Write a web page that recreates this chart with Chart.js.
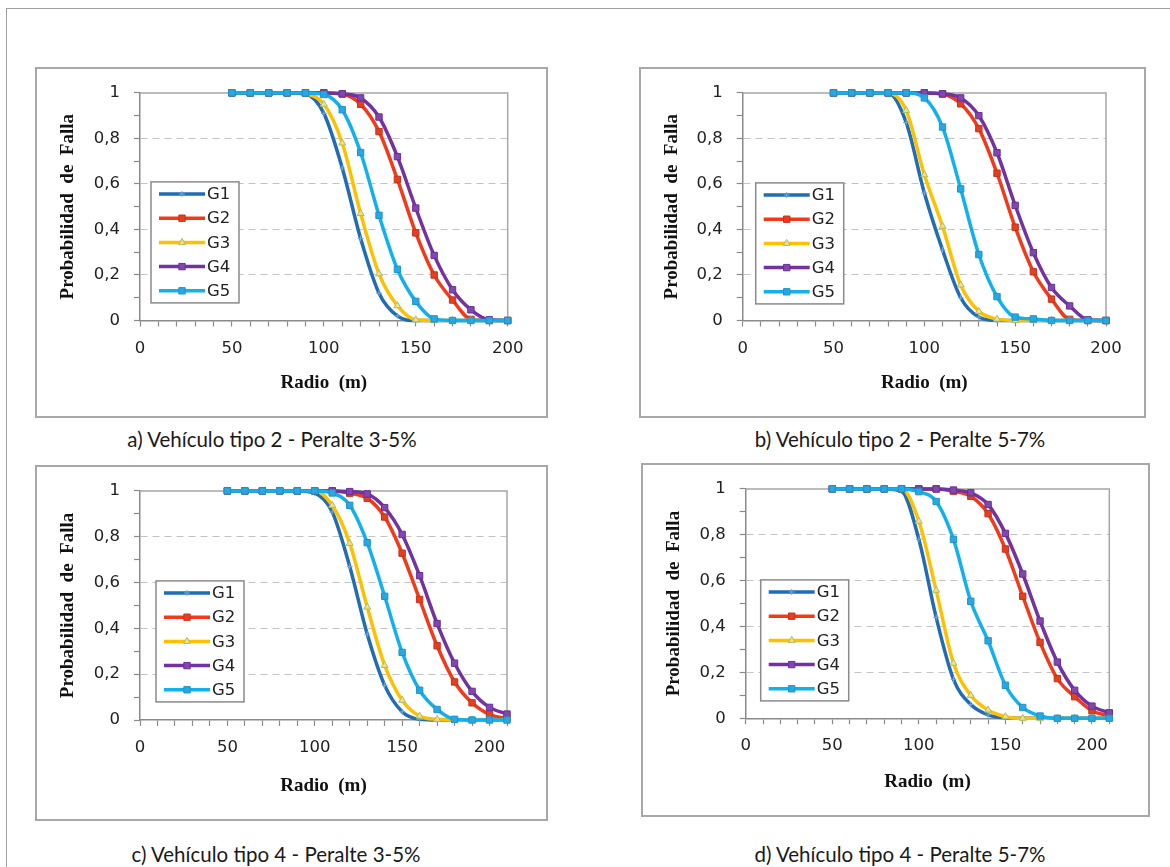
<!DOCTYPE html>
<html>
<head>
<meta charset="utf-8">
<script src="https://cdn.jsdelivr.net/npm/chart.js@4.4.0/dist/chart.umd.min.js"></script>
<style>
  html, body { margin: 0; padding: 0; background: #fff; }
  body { width: 1170px; height: 867px; position: relative; overflow: hidden; }
  .outer { position: absolute; left: 6px; top: 8px; width: 1300px; height: 1000px; border: 1.5px solid #a0a0a0; }
  .frame { position: absolute; border: 2px solid #a8a8a8; box-sizing: border-box; }
  canvas { position: absolute; }
  .cap { position: absolute; font: 20.5px Lato, "Noto Sans", sans-serif; color: #1a1a1a; white-space: nowrap; transform: translateX(-50%); line-height: 1.2; }
</style>
</head>
<body>
<div class="outer"></div>
<script>
// radios (m)
const radiosAB = [50, 60, 70, 80, 90, 100, 110, 120, 130, 140, 150, 160, 170, 180, 190, 200];
const radiosCD = [50, 60, 70, 80, 90, 100, 110, 120, 130, 140, 150, 160, 170, 180, 190, 200, 210];
const seriesNames = ['G1', 'G2', 'G3', 'G4', 'G5'];
const xLabelsEvery = 50;
const yLabelsEvery = 0.2;

// a) Vehiculo tipo 2 - Peralte 3-5%
const a_G1 = [1, 1, 1, 1, 0.995, 0.91, 0.67, 0.36, 0.12, 0.02, 0, 0, 0, 0, 0, 0];
const a_G2 = [1, 1, 1, 1, 1, 1, 0.995, 0.95, 0.83, 0.62, 0.385, 0.2, 0.09, 0.005, 0, 0];
const a_G3 = [1, 1, 1, 1, 0.995, 0.95, 0.78, 0.47, 0.205, 0.065, 0.003, 0, 0, 0, 0, 0];
const a_G4 = [1, 1, 1, 1, 1, 1, 0.996, 0.978, 0.894, 0.72, 0.494, 0.286, 0.135, 0.047, 0.003, 0];
const a_G5 = [1, 1, 1, 1, 1, 0.993, 0.926, 0.738, 0.462, 0.225, 0.084, 0.007, 0, 0, 0, 0];

// b) Vehiculo tipo 2 - Peralte 5-7%
const b_G1 = [1, 1, 1, 1, 0.87, 0.56, 0.31, 0.1, 0.015, 0, 0, 0, 0, 0, 0, 0];
const b_G2 = [1, 1, 1, 1, 1, 1, 0.995, 0.952, 0.843, 0.647, 0.41, 0.214, 0.094, 0.005, 0, 0];
const b_G3 = [1, 1, 1, 1, 0.923, 0.64, 0.414, 0.156, 0.04, 0.006, 0, 0, 0, 0, 0, 0];
const b_G4 = [1, 1, 1, 1, 1, 1, 0.996, 0.978, 0.9, 0.737, 0.506, 0.298, 0.145, 0.064, 0.003, 0];
const b_G5 = [1, 1, 1, 1, 1, 0.978, 0.85, 0.578, 0.29, 0.105, 0.015, 0.007, 0, 0, 0, 0];

// c) Vehiculo tipo 4 - Peralte 3-5%
const c_G1 = [1, 1, 1, 1, 1, 0.99, 0.908, 0.67, 0.375, 0.151, 0.036, 0.003, 0, 0, 0, 0, 0];
const c_G2 = [1, 1, 1, 1, 1, 1, 1, 0.99, 0.968, 0.886, 0.728, 0.526, 0.324, 0.166, 0.075, 0.024, 0.007];
const c_G3 = [1, 1, 1, 1, 1, 1, 0.937, 0.771, 0.493, 0.238, 0.086, 0.017, 0.003, 0, 0, 0, 0];
const c_G4 = [1, 1, 1, 1, 1, 1, 1, 0.997, 0.987, 0.927, 0.81, 0.63, 0.421, 0.248, 0.125, 0.055, 0.026];
const c_G5 = [1, 1, 1, 1, 1, 1, 0.991, 0.937, 0.774, 0.54, 0.295, 0.13, 0.046, 0.003, 0, 0, 0];

// d) Vehiculo tipo 4 - Peralte 5-7%
const d_G1 = [1, 1, 1, 1, 0.99, 0.78, 0.44, 0.17, 0.06, 0.015, 0.002, 0, 0, 0, 0, 0, 0];
const d_G2 = [1, 1, 1, 1, 1, 1, 1, 0.99, 0.968, 0.892, 0.738, 0.532, 0.331, 0.173, 0.094, 0.033, 0.01];
const d_G3 = [1, 1, 1, 1, 1, 0.859, 0.558, 0.24, 0.1, 0.036, 0.007, 0, 0, 0, 0, 0, 0];
const d_G4 = [1, 1, 1, 1, 1, 1, 1, 0.995, 0.983, 0.932, 0.806, 0.629, 0.424, 0.245, 0.122, 0.053, 0.024];
const d_G5 = [1, 1, 1, 1, 1, 0.988, 0.945, 0.78, 0.51, 0.338, 0.144, 0.047, 0.01, 0, 0, 0, 0];

// line / marker look for G1..G5
const styles = [
    { color: '#1f6db4', pointStyle: 'cross', radius: 3, bg: '#6fa8dc', border: '#6fa8dc', bw: 1 },
    { color: '#f23a1a', pointStyle: 'rect', radius: 4.5, bg: '#e2401f', border: '#c93119', bw: 1 },
    { color: '#ffc000', pointStyle: 'triangle', radius: 4, bg: '#f6dd8c', border: '#a8c05a', bw: 1 },
    { color: '#7232a2', pointStyle: 'rect', radius: 4.5, bg: '#8048ac', border: '#6a2f98', bw: 1 },
    { color: '#12b0ec', pointStyle: 'rect', radius: 4.5, bg: '#2aa7df', border: '#1c95cc', bw: 1 }
];

const panels = [
    { radios: radiosAB, series: [a_G1, a_G2, a_G3, a_G4, a_G5], xMax: 200,
      frame: [36, 67.5, 547, 416.5], plot: [140, 90.7, 507.7, 320], legend: [11, 89],
      caption: 'a) Vehículo tipo 2 - Peralte 3-5%', capX: 272, capY: 427 },
    { radios: radiosAB, series: [b_G1, b_G2, b_G3, b_G4, b_G5], xMax: 200,
      frame: [640, 67.5, 1145, 416.5], plot: [742.7, 90.7, 1106, 320], legend: [13, 90],
      caption: 'b) Vehículo tipo 2 - Peralte 5-7%', capX: 900, capY: 427 },
    { radios: radiosCD, series: [c_G1, c_G2, c_G3, c_G4, c_G5], xMax: 210,
      frame: [36, 466, 547, 820], plot: [140, 488.7, 507, 720], legend: [16, 90],
      caption: 'c) Vehículo tipo 4 - Peralte 3-5%', capX: 276, capY: 842 },
    { radios: radiosCD, series: [d_G1, d_G2, d_G3, d_G4, d_G5], xMax: 210,
      frame: [642, 464, 1149, 816], plot: [745.7, 486.7, 1109.3, 718.3], legend: [15, 91],
      caption: 'd) Vehículo tipo 4 - Peralte 5-7%', capX: 900, capY: 842 }
];

const plotBorder = {
    id: 'plotBorder',
    beforeDatasetsDraw(chart) {
        const { ctx, chartArea: a } = chart;
        ctx.save();
        ctx.strokeStyle = '#a6a6a6';
        ctx.lineWidth = 1.5;
        ctx.beginPath();
        ctx.moveTo(a.left, a.top);
        ctx.lineTo(a.right, a.top);
        ctx.lineTo(a.right, a.bottom);
        ctx.stroke();
        ctx.restore();
    }
};

const boxLegend = {
    id: 'boxLegend',
    afterDraw(chart, args, opts) {
        const { ctx, chartArea: a } = chart;
        const bx = a.left + opts.dx, by = a.top + opts.dy;
        const w = 88, rowH = 24.2, h = rowH * seriesNames.length;
        ctx.save();
        ctx.fillStyle = '#fff';
        ctx.fillRect(bx, by, w, h);
        ctx.strokeStyle = '#8a8a8a';
        ctx.lineWidth = 1.5;
        ctx.strokeRect(bx, by, w, h);
        ctx.font = '16.5px "DejaVu Sans"';
        ctx.textBaseline = 'middle';
        seriesNames.forEach((name, i) => {
            const st = styles[i];
            const y = by + rowH / 2 + i * rowH;
            ctx.strokeStyle = st.color;
            ctx.lineWidth = 3.5;
            ctx.beginPath();
            ctx.moveTo(bx + 8, y);
            ctx.lineTo(bx + 54, y);
            ctx.stroke();
            ctx.fillStyle = st.bg;
            ctx.strokeStyle = st.border;
            ctx.lineWidth = st.bw;
            Chart.helpers.drawPoint(ctx, { pointStyle: st.pointStyle, radius: st.radius, borderWidth: st.bw, rotation: 0 }, bx + 31, y);
            ctx.fillStyle = '#222';
            ctx.fillText(name, bx + 56, y + 1);
        });
        ctx.restore();
    }
};

panels.forEach(p => {
    const [fx0, fy0, fx1, fy1] = p.frame;
    const [px0, py0, px1, py1] = p.plot;

    const frame = document.createElement('div');
    frame.className = 'frame';
    Object.assign(frame.style, { left: (fx0 - 1) + 'px', top: (fy0 - 1) + 'px', width: (fx1 - fx0 + 2) + 'px', height: (fy1 - fy0 + 2) + 'px' });
    document.body.appendChild(frame);

    const cx = fx0 + 1, cy = fy0 + 1, cw = fx1 - fx0 - 2, ch = fy1 - fy0 - 2;
    const canvas = document.createElement('canvas');
    canvas.width = cw;
    canvas.height = ch;
    Object.assign(canvas.style, { left: cx + 'px', top: cy + 'px', width: cw + 'px', height: ch + 'px' });
    document.body.appendChild(canvas);

    const cap = document.createElement('div');
    cap.className = 'cap';
    cap.textContent = p.caption;
    Object.assign(cap.style, { left: p.capX + 'px', top: p.capY + 'px' });
    document.body.appendChild(cap);

    const datasets = seriesNames.map((name, i) => ({
        label: name,
        data: p.radios.map((r, k) => ({ x: r, y: p.series[i][k] })),
        borderColor: styles[i].color,
        backgroundColor: styles[i].bg,
        borderWidth: 3.5,
        pointStyle: styles[i].pointStyle,
        pointRadius: styles[i].radius,
        pointBackgroundColor: styles[i].bg,
        pointBorderColor: styles[i].border,
        pointBorderWidth: styles[i].bw,
        cubicInterpolationMode: 'monotone',
        clip: false,
        order: seriesNames.length - i
    }));

    new Chart(canvas.getContext('2d'), {
        type: 'line',
        data: { datasets },
        options: {
            responsive: false,
            animation: false,
            events: [],
            layout: { padding: { top: py0 - cy, right: cx + cw - px1, left: 0, bottom: 0 } },
            plugins: {
                legend: { display: false },
                tooltip: { enabled: false },
                boxLegend: { dx: p.legend[0], dy: p.legend[1] }
            },
            scales: {
                x: {
                    type: 'linear',
                    min: 0,
                    max: p.xMax,
                    ticks: {
                        stepSize: 10,
                        autoSkip: false,
                        maxRotation: 0,
                        padding: 12,
                        color: '#222',
                        font: { family: 'DejaVu Sans', size: 16.5 },
                        callback: v => (v % xLabelsEvery === 0 ? String(v) : '')
                    },
                    grid: { drawOnChartArea: false, tickLength: 6, tickColor: '#8a8a8a', tickWidth: 1.2 },
                    border: { color: '#8a8a8a', width: 1.5 },
                    title: {
                        display: true,
                        text: 'Radio  (m)',
                        color: '#111',
                        font: { family: 'Liberation Serif', size: 19, weight: 'bold' },
                        padding: { top: 0, bottom: 22 }
                    },
                    afterFit: s => { s.height = cy + ch - py1; }
                },
                y: {
                    min: 0,
                    max: 1,
                    ticks: {
                        stepSize: 0.1,
                        autoSkip: false,
                        padding: 14,
                        color: '#222',
                        font: { family: 'DejaVu Sans', size: 16.5 },
                        callback: v => {
                            const k = Math.round(v * 10);
                            if (k % Math.round(yLabelsEvery * 10) !== 0) return '';
                            return String(k / 10).replace('.', ',');
                        }
                    },
                    grid: {
                        color: c => {
                            if (!c.tick) return 'transparent';
                            const k = Math.round(c.tick.value * 10);
                            return (k % 2 === 0 && k > 0 && k < 10) ? '#c4c4c4' : 'transparent';
                        },
                        lineWidth: 1,
                        tickLength: 6,
                        tickColor: '#8a8a8a',
                        tickWidth: 1.2,
                        tickBorderDash: []
                    },
                    border: { color: '#8a8a8a', width: 1.5, dash: [7, 5] },
                    title: {
                        display: true,
                        text: 'Probabilidad  de  Falla',
                        color: '#111',
                        font: { family: 'Liberation Serif', size: 19, weight: 'bold' },
                        padding: { top: 20, bottom: 0 }
                    },
                    afterFit: s => { s.width = px0 - cx; }
                }
            }
        },
        plugins: [plotBorder, boxLegend]
    });
});
</script>
</body>
</html>
